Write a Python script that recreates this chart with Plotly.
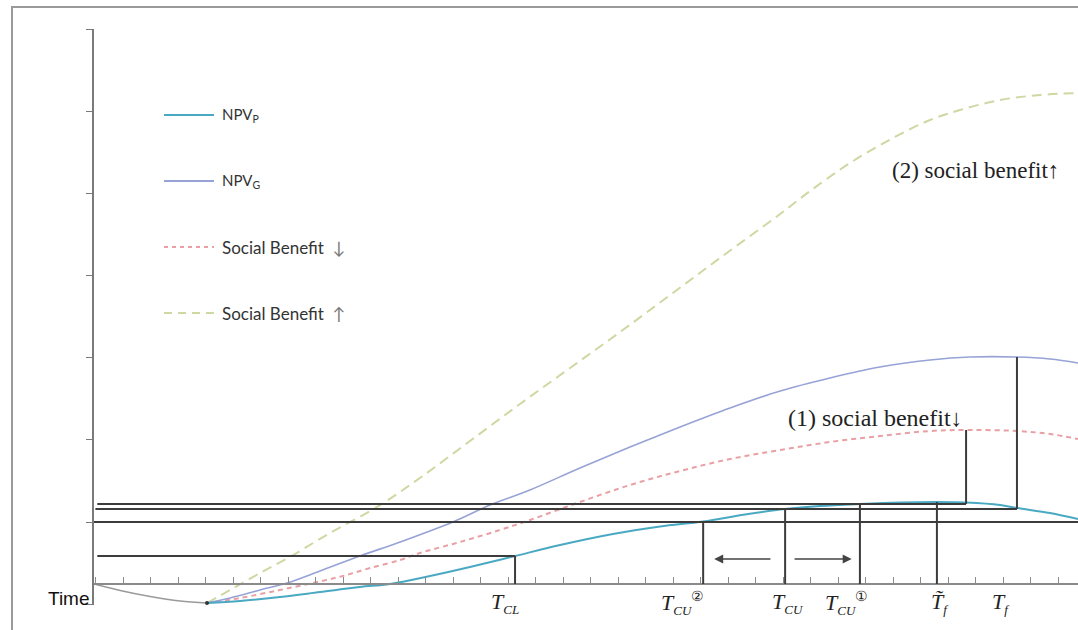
import plotly.graph_objects as go

# ---------------- data (time in tick units, value in arbitrary units) ----------------
time_base = [0, 0.95, 2.04, 3.13, 4.11]
npv_base = [0, -0.65, -1.25, -1.7, -1.9]

time_p = [4.11, 5.31, 6.76, 8.22, 9.67, 10.76, 12.22, 13.67, 15.31, 16.95, 18.87, 20.58,
          22.15, 23.67, 25.13, 26.4, 27.85, 29.31, 30.65, 31.71, 32.95, 33.56, 34.76, 35.78]
npv_p = [-1.9, -1.7, -1.3, -0.8, -0.3, 0, 0.8, 1.7, 2.8, 3.9, 5.0, 5.75,
         6.25, 6.95, 7.5, 7.8, 8.0, 8.15, 8.2, 8.15, 7.9, 7.6, 7.1, 6.5]

time_g = [4.11, 4.95, 6.04, 7.02, 8.22, 9.67, 11.13, 13.05, 14.4, 15.85, 17.67, 19.49,
          21.31, 23.13, 24.95, 26.76, 28.58, 30.4, 31.85, 33.56, 34.76, 35.78]
npv_g = [-1.9, -1.4, -0.6, 0.1, 1.3, 2.8, 4.2, 6.2, 7.9, 9.4, 11.6, 13.7,
         15.7, 17.6, 19.3, 20.6, 21.7, 22.4, 22.7, 22.7, 22.5, 22.1]

time_sd = [4.11, 5.31, 6.76, 7.96, 9.05, 10.04, 11.13, 11.85, 13.31, 14.76, 15.85, 17.67,
           19.49, 21.31, 23.13, 24.95, 26.76, 28.58, 30.4, 31.85, 33.56, 34.76, 35.78]
sb_down = [-1.9, -1.4, -0.6, 0.1, 0.8, 1.6, 2.4, 3.1, 4.2, 5.4, 6.4, 8.2,
           9.9, 11.3, 12.5, 13.4, 14.2, 14.8, 15.3, 15.4, 15.3, 15.0, 14.5]

time_su = [4.11, 4.95, 6.04, 7.24, 8.58, 10.29, 11.85, 13.67, 15.49, 17.31, 19.13, 20.95,
           22.76, 24.95, 26.04, 27.49, 29.05, 30.4, 31.49, 32.95, 34.4, 35.78]
sb_up = [-1.9, -0.6, 1.1, 2.9, 5.1, 7.7, 10.6, 14.3, 18.0, 21.6, 25.2, 28.9,
         32.6, 37.0, 39.3, 42.1, 44.6, 46.4, 47.4, 48.4, 48.9, 49.1]

# key times and levels
T_CL, T_CU2, T_CU, T_CU1, T_F_TILDE, T_SB_PEAK, T_F = 15.31, 22.15, 25.13, 27.85, 30.65, 31.71, 33.56
LV_CL, LV_CU2, LV_CU, LV_CU1 = 2.8, 6.2, 7.5, 8.0
PEAK_P, PEAK_SB, PEAK_G = 8.2, 15.4, 22.7

SUB = "<sub><span style='font-size:13px'><i>%s</i></span></sub>"
SUP = "<sup><span style='font-size:14px'>%s</span></sup>"
tick_labels = ["<i>T</i>" + SUB % "CL",
               "<i>T</i>" + SUB % "CU" + SUP % "②",
               "<i>T</i>" + SUB % "CU",
               "<i>T</i>" + SUB % "CU" + SUP % "①",
               "<i>T̃</i>" + SUB % "f",
               "<i>T</i>" + SUB % "f"]
label_x = [14.95, 21.4, 25.24, 27.36, 30.76, 32.98]

legend_names = ["NPV<sub>P</sub>", "NPV<sub>G</sub>",
                "Social Benefit &nbsp;<span style='color:#777'>↓</span>",
                "Social Benefit &nbsp;<span style='color:#777'>↑</span>"]
legend_sizes = [15, 15, 17, 17]

# ---------------- layout geometry ----------------
W, H = 1078, 630
ML, MR, MT, MB = 94, 0, 29, 25
YMIN, YMAX = -2.1, 55.5
XMAX = 35.78


def pxx(x):
    return (x - ML) / (W - ML - MR)


def pxy(y):
    return (H - MB - y) / (H - MT - MB)


C_P = "#4aa9c2"
C_G = "#97a3d6"
C_SD = "#e8a0a4"
C_SU = "#cdd8a2"
C_LINE = "#3c3c3c"

fig = go.Figure()
fig.add_trace(go.Scatter(x=time_base, y=npv_base, mode="lines", line=dict(color="#9a9a9a", width=1.5, shape="spline"), showlegend=False))
fig.add_trace(go.Scatter(x=time_su, y=sb_up, mode="lines", line=dict(color=C_SU, width=2, dash="10px,6px", shape="spline"), showlegend=False))
fig.add_trace(go.Scatter(x=time_sd, y=sb_down, mode="lines", line=dict(color=C_SD, width=2, dash="5px,4px", shape="spline"), showlegend=False))
fig.add_trace(go.Scatter(x=time_g, y=npv_g, mode="lines", line=dict(color=C_G, width=1.6, shape="spline"), showlegend=False))
fig.add_trace(go.Scatter(x=time_p, y=npv_p, mode="lines", line=dict(color=C_P, width=2, shape="spline"), showlegend=False))
fig.add_trace(go.Scatter(x=[time_base[-1]], y=[npv_base[-1]], mode="markers", marker=dict(color="#333", size=4), showlegend=False))

shapes = []


def seg(x0, y0, x1, y1):
    shapes.append(dict(type="line", xref="x", yref="y", x0=x0, y0=y0, x1=x1, y1=y1,
                       line=dict(color=C_LINE, width=2)))


# horizontal reference lines
seg(0.12, LV_CL, T_CL, LV_CL)
seg(0, LV_CU2, XMAX, LV_CU2)
seg(0.05, LV_CU, T_F, LV_CU)
seg(0.12, LV_CU1, T_SB_PEAK, LV_CU1)
# vertical reference lines
seg(T_CL, 0, T_CL, LV_CL)
seg(T_CU2, 0, T_CU2, LV_CU2)
seg(T_CU, 0, T_CU, LV_CU)
seg(T_CU1, 0, T_CU1, LV_CU1)
seg(T_F_TILDE, 0, T_F_TILDE, PEAK_P)
seg(T_SB_PEAK, LV_CU1, T_SB_PEAK, PEAK_SB)
seg(T_F, LV_CU, T_F, PEAK_G)

# outer frame (left and top)
shapes.append(dict(type="path", xref="paper", yref="paper",
                   path=f"M {pxx(12)} {pxy(632)} L {pxx(12)} {pxy(7)} L {pxx(1090)} {pxy(7)}",
                   line=dict(color="#9a9a9a", width=2)))

# legend samples
leg_y = [115, 181, 247, 313]
leg_col = [C_P, C_G, C_SD, C_SU]
leg_dash = ["solid", "solid", "4px,4px", "8px,6px"]
annotations = []
for yy, cc, dd, name, fs in zip(leg_y, leg_col, leg_dash, legend_names, legend_sizes):
    shapes.append(dict(type="line", xref="paper", yref="paper", x0=pxx(164), x1=pxx(214),
                       y0=pxy(yy), y1=pxy(yy), line=dict(color=cc, width=2, dash=dd)))
    annotations.append(dict(xref="paper", yref="paper", x=pxx(220), y=pxy(yy), text=name,
                            showarrow=False, xanchor="left", yanchor="middle",
                            font=dict(family="Lato, DejaVu Sans", size=fs, color="#333")))

# axis labels under time axis
for lx, lt in zip(label_x, tick_labels):
    annotations.append(dict(xref="x", yref="y", x=lx, y=-1.9, text=lt, showarrow=False,
                            xanchor="center", yanchor="middle",
                            font=dict(family="Liberation Serif", size=22, color="#222")))

annotations.append(dict(xref="paper", yref="paper", x=pxx(69), y=pxy(598), text="Time",
                        showarrow=False, xanchor="center", yanchor="middle",
                        font=dict(family="Liberation Sans", size=19, color="#111")))

annotations.append(dict(xref="x", yref="y", x=28.95, y=41.4, text="(2) social benefit↑",
                        showarrow=False, xanchor="left", yanchor="middle",
                        font=dict(family="Liberation Serif", size=23, color="#222")))
annotations.append(dict(xref="x", yref="y", x=25.15, y=16.6, text="(1) social benefit↓",
                        showarrow=False, xanchor="left", yanchor="middle",
                        font=dict(family="Liberation Serif", size=24, color="#222")))

# direction arrows between T_CU^(2), T_CU, T_CU^(1)
annotations.append(dict(xref="x", yref="y", axref="x", ayref="y", x=22.55, y=2.5, ax=24.65, ay=2.5,
                        text="", showarrow=True, arrowhead=2, arrowsize=1.2, arrowwidth=1.5, arrowcolor="#444"))
annotations.append(dict(xref="x", yref="y", axref="x", ayref="y", x=27.55, y=2.5, ax=25.42, ay=2.5,
                        text="", showarrow=True, arrowhead=2, arrowsize=1.2, arrowwidth=1.5, arrowcolor="#444"))

fig.update_layout(
    width=W, height=H, margin=dict(l=ML, r=MR, t=MT, b=MB),
    paper_bgcolor="white", plot_bgcolor="white",
    shapes=shapes, annotations=annotations, showlegend=False,
    xaxis=dict(range=[0, XMAX], showgrid=False, zeroline=False, showticklabels=False,
               showline=True, linecolor="#8a8a8a", linewidth=1.5,
               ticks="inside", ticklen=6, tickcolor="#8a8a8a", tickwidth=1,
               tick0=0.055, dtick=1, anchor="free", position=(0 - YMIN) / (YMAX - YMIN)),
    yaxis=dict(range=[YMIN, YMAX], showgrid=False, zeroline=False, showticklabels=False,
               showline=True, linecolor="#7a7a7a", linewidth=1.5,
               ticks="outside", ticklen=6, tickcolor="#7a7a7a", tickwidth=1,
               tick0=-2.02, dtick=8.217),
)

fig.write_html("out.html", config={"displayModeBar": False},
               post_script="document.body.style.margin='0';document.body.style.overflow='hidden';")
